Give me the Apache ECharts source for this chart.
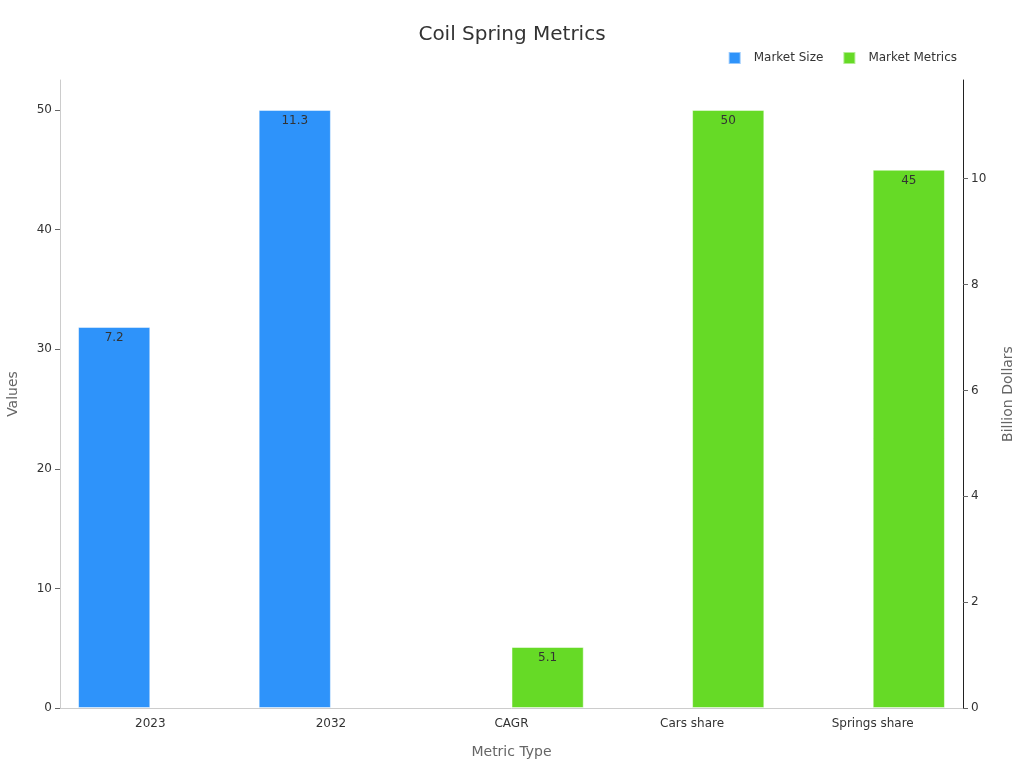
<!DOCTYPE html>
<html>
<head>
<meta charset="utf-8">
<script src="https://cdn.jsdelivr.net/npm/echarts@6/dist/echarts.min.js"></script>
<style>html,body{margin:0;padding:0;background:#fff}#c{width:1024px;height:768px}</style>
</head>
<body>
<div id="c"></div>
<script>
const categories = ['2023', '2032', 'CAGR', 'Cars share', 'Springs share'];
const marketSize = [7.2, 11.3, null, null, null];
const marketMetrics = [null, null, 5.1, 50, 45];
const leftTicks = [0, 10, 20, 30, 40, 50];
const rightTicks = [0, 2, 4, 6, 8, 10];

const chart = echarts.init(document.getElementById('c'));
const font = 'DejaVu Sans, sans-serif';
chart.setOption({
  animation: false,
  textStyle: { fontFamily: font },
  title: {
    text: 'Coil Spring Metrics',
    left: 'center',
    top: 20,
    textStyle: { fontSize: 20, fontWeight: 'normal', color: '#333', fontFamily: font }
  },
  legend: {
    right: 62,
    top: 46,
    itemWidth: 12,
    itemHeight: 12,
    itemGap: 19,
    icon: 'rect',
    textStyle: { fontSize: 12, color: '#333', fontFamily: font, padding: [0, 0, 0, 8] },
    data: ['Market Size', 'Market Metrics']
  },
  grid: { left: 60, right: 61, top: 80, bottom: 60, outerBoundsMode: 'none', containLabel: false },
  xAxis: {
    type: 'category',
    data: categories,
    name: 'Metric Type',
    nameLocation: 'middle',
    nameGap: 37,
    nameTextStyle: { fontSize: 14, color: '#666' },
    axisLine: { lineStyle: { color: '#ccc' } },
    axisTick: { alignWithLabel: true, lineStyle: { color: '#999' } },
    axisLabel: { fontSize: 12, color: '#333', margin: 10 }
  },
  yAxis: [
    {
      type: 'value',
      name: 'Values',
      nameLocation: 'middle',
      nameGap: 40,
      nameTextStyle: { fontSize: 14, color: '#666' },
      min: 0,
      max: v => v.max * 1.05,
      interval: 10,
      splitLine: { show: false },
      axisLine: { show: true, lineStyle: { color: '#ccc' } },
      axisTick: { show: true, customValues: leftTicks, lineStyle: { color: '#666' } },
      axisLabel: { fontSize: 12, color: '#333', customValues: leftTicks }
    },
    {
      type: 'value',
      name: 'Billion Dollars',
      nameLocation: 'middle',
      nameGap: 38,
      nameTextStyle: { fontSize: 14, color: '#666' },
      min: 0,
      max: v => v.max * 1.05,
      interval: 2,
      splitLine: { show: false },
      axisLine: { show: true, lineStyle: { color: '#222' } },
      axisTick: { show: true, customValues: rightTicks, lineStyle: { color: '#666' } },
      axisLabel: { fontSize: 12, color: '#333', customValues: rightTicks }
    }
  ],
  series: [
    {
      name: 'Market Size',
      type: 'bar',
      yAxisIndex: 1,
      data: marketSize,
      barWidth: '40%',
      barGap: '0%',
      itemStyle: { color: '#2E93FA', borderColor: 'rgba(255,255,255,0.5)', borderWidth: 1 },
      label: { show: true, position: 'insideTop', color: '#333', fontSize: 12 }
    },
    {
      name: 'Market Metrics',
      type: 'bar',
      yAxisIndex: 0,
      data: marketMetrics,
      barWidth: '40%',
      barGap: '0%',
      itemStyle: { color: '#66DA26', borderColor: 'rgba(255,255,255,0.5)', borderWidth: 1 },
      label: { show: true, position: 'insideTop', color: '#333', fontSize: 12 }
    }
  ]
});
</script>
</body>
</html>
